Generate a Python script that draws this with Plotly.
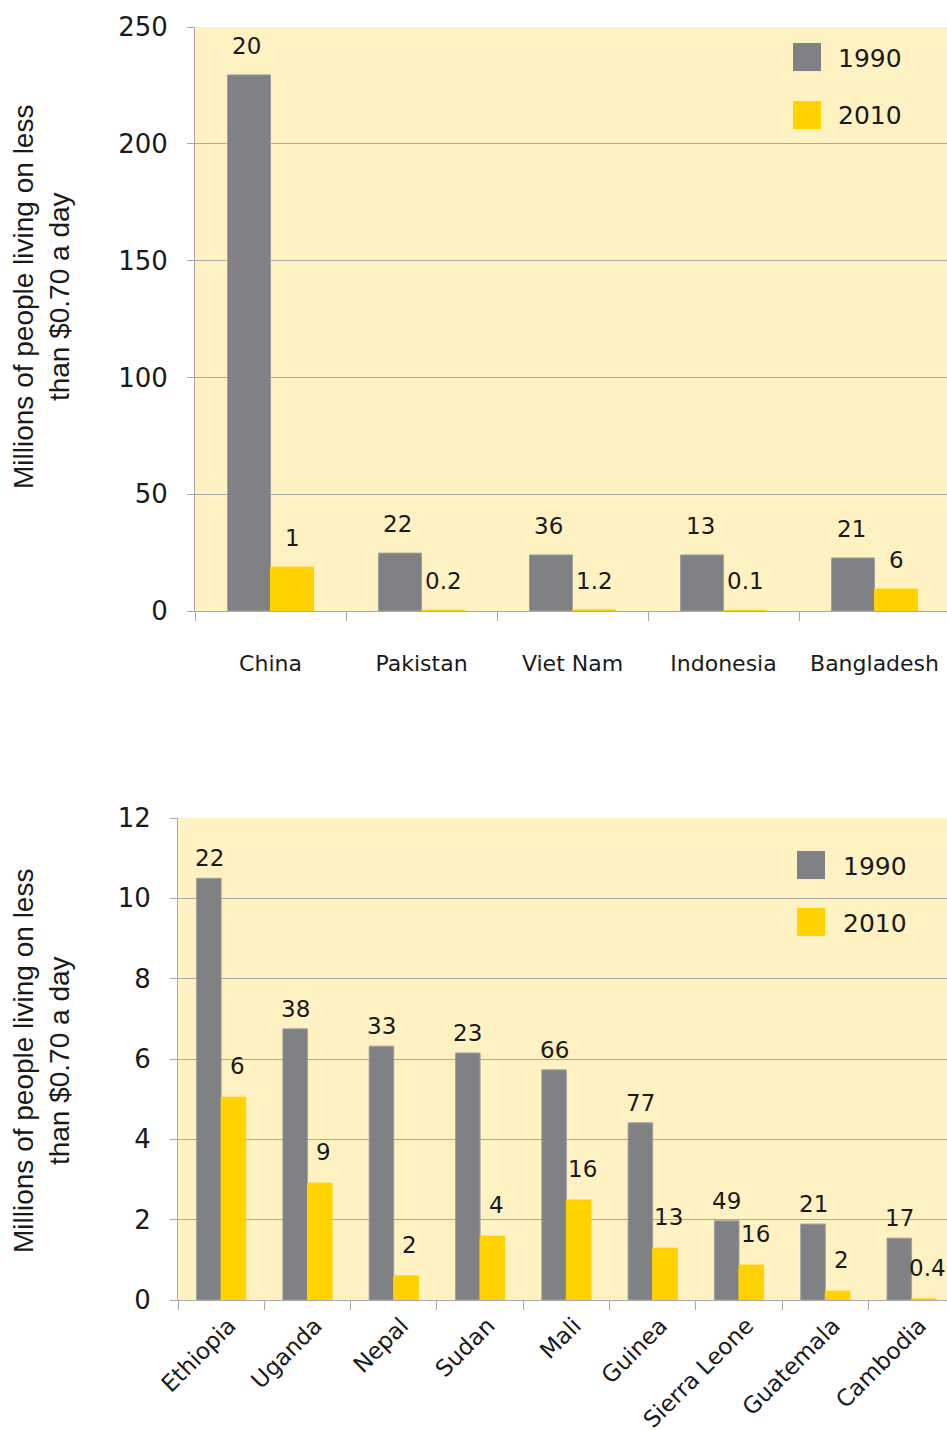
import plotly.graph_objects as go

W, H = 947, 1430

# ---------- data ----------
countries_top = ["China", "Pakistan", "Viet Nam", "Indonesia", "Bangladesh"]
top_1990 = [229.5, 24.8, 24.0, 24.0, 22.7]
top_2010 = [18.8, 0.4, 0.5, 0.3, 9.4]
top_lbl_1990 = ["20", "22", "36", "13", "21"]
top_lbl_2010 = ["1", "0.2", "1.2", "0.1", "6"]

countries_bot = ["Ethiopia", "Uganda", "Nepal", "Sudan", "Mali", "Guinea",
                 "Sierra Leone", "Guatemala", "Cambodia"]
bot_1990 = [10.5, 6.75, 6.32, 6.15, 5.73, 4.41, 1.97, 1.89, 1.54]
bot_2010 = [5.05, 2.91, 0.6, 1.59, 2.49, 1.29, 0.87, 0.22, 0.03]
bot_lbl_1990 = ["22", "38", "33", "23", "66", "77", "49", "21", "17"]
bot_lbl_2010 = ["6", "9", "2", "4", "16", "13", "16", "2", "0.4"]

series_names = ["1990", "2010"]
series_colors = ["#808184", "#FFD200"]

y_title = "Millions of people living on less<br>than $0.70 a day"

# ---------- style ----------
BG = "#FFF2C2"
GRID = "#A9A9A9"
TXT = "#1A1A1A"
FONT = "DejaVu Sans"
GAP_TOP = 0.43
GAP_BOT = 0.44


def px(x):
    return x / W


def py(y):
    return 1 - y / H


fig = go.Figure()

panels = [
    dict(xa="x", ya="y", cats=countries_top, vals=[top_1990, top_2010],
         lbls=[top_lbl_1990, top_lbl_2010], gap=GAP_TOP,
         yshift=[29, 29], xshift=[-2, 0]),
    dict(xa="x2", ya="y2", cats=countries_bot, vals=[bot_1990, bot_2010],
         lbls=[bot_lbl_1990, bot_lbl_2010], gap=GAP_BOT,
         yshift=[20, 31], xshift=[0, 4]),
]

annotations = []
for p in panels:
    for s, (name, color) in enumerate(zip(series_names, series_colors)):
        fig.add_trace(
            go.Bar(
                x=p["cats"],
                y=p["vals"][s],
                name=name,
                marker=dict(color=color,
                            line=dict(color="#A0A0A0" if s == 0 else color, width=1)),
                xaxis=p["xa"],
                yaxis=p["ya"],
                showlegend=False,
                hoverinfo="skip",
            )
        )
        off = (1 - p["gap"]) / 4 * (-1 if s == 0 else 1)
        for i, (v, t) in enumerate(zip(p["vals"][s], p["lbls"][s])):
            annotations.append(dict(
                x=i + off, y=v, xref=p["xa"], yref=p["ya"], text=t,
                showarrow=False, yanchor="middle", yshift=p["yshift"][s],
                xshift=p["xshift"][s],
                font=dict(family=FONT, size=23, color=TXT),
            ))

# y-axis titles
for yc in [297, 1061]:
    annotations.append(dict(
        x=px(41), y=py(yc), xref="paper", yref="paper", text=y_title,
        textangle=-90, showarrow=False, align="center",
        xanchor="center", yanchor="middle",
        font=dict(family="Liberation Sans", size=28, color=TXT),
    ))

# legends (swatch boxes + labels)
shapes = []
legend_pos = [
    dict(x0=793, y0=[43, 101], tx=836),
    dict(x0=797, y0=[851, 908], tx=841),
]
for lg in legend_pos:
    for name, color, y0 in zip(series_names, series_colors, lg["y0"]):
        shapes.append(dict(
            type="rect", xref="paper", yref="paper",
            x0=px(lg["x0"]), x1=px(lg["x0"] + 28),
            y0=py(y0 + 28), y1=py(y0),
            fillcolor=color, line=dict(width=0),
        ))
        annotations.append(dict(
            x=px(lg["tx"]), y=py(y0 + 15), xref="paper", yref="paper",
            text=name, showarrow=False, xanchor="left", yanchor="middle",
            font=dict(family=FONT, size=25, color=TXT),
        ))

xcommon = dict(
    type="category", showline=True, linecolor=GRID, linewidth=1,
    ticks="outside", tickson="boundaries", ticklen=9, tickcolor=GRID,
    showgrid=False, zeroline=False, automargin=False,
)
ycommon = dict(
    showline=True, linecolor=GRID, linewidth=1,
    ticks="outside", ticklen=7, tickcolor=GRID,
    showgrid=True, gridcolor=GRID, gridwidth=1, zeroline=False,
    tickfont=dict(family=FONT, size=26, color=TXT), ticklabelstandoff=14,
    automargin=False,
)

fig.update_layout(
    width=W,
    height=H,
    margin=dict(l=0, r=0, t=0, b=0),
    paper_bgcolor="white",
    plot_bgcolor=BG,
    barmode="group",
    showlegend=False,
    xaxis=dict(
        **xcommon,
        domain=[px(195), 1], anchor="y", range=[-0.5, 4.48],
        tickfont=dict(family=FONT, size=22, color=TXT), ticklabelstandoff=33,
    ),
    yaxis=dict(**ycommon, domain=[py(611), py(27)], anchor="x",
               range=[0, 250], dtick=50),
    xaxis2=dict(
        **xcommon,
        domain=[px(178), 1], anchor="y2", range=[-0.5, 8.41],
        tickangle=-45, tickfont=dict(family=FONT, size=23, color=TXT),
        ticklabelstandoff=2, ticklabelshift=8,
    ),
    yaxis2=dict(**ycommon, domain=[py(1300), py(818)], anchor="x2",
                range=[0, 12], dtick=2),
    bargap=GAP_TOP,
    bargroupgap=0,
    shapes=shapes,
    annotations=annotations,
)

# drop the default page margin so the figure sits at the window's corner
fig.write_html(
    "out.html",
    config={"displayModeBar": False},
    post_script="document.body.style.margin='0px';"
                "document.body.style.overflow='hidden';",
)
